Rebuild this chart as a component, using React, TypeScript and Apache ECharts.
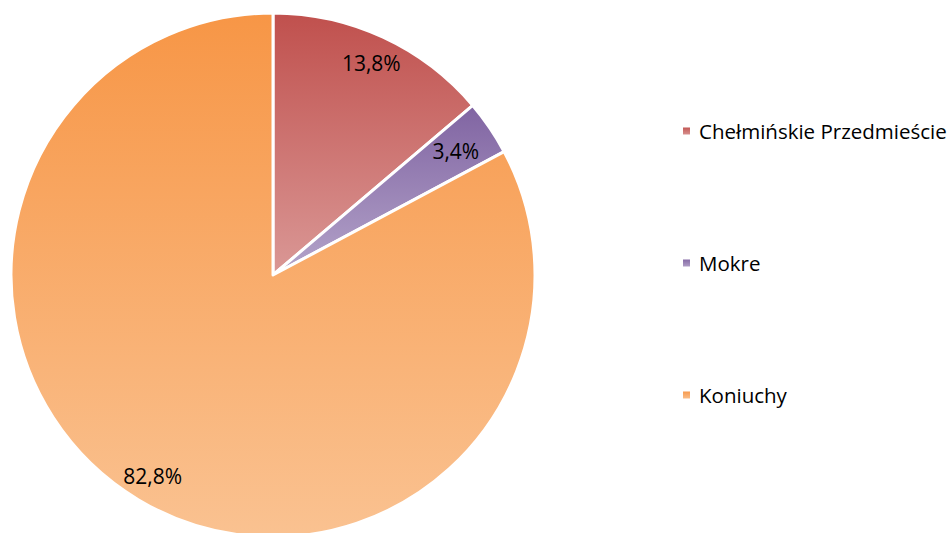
import React, { useEffect, useRef } from "react";
import * as echarts from "echarts";

const categories = ["Chełmińskie Przedmieście", "Mokre", "Koniuchy"];
const values = [13.8, 3.4, 82.8];
const topColors = ["#C0504D", "#8064A2", "#F79646"];
const bottomColors = ["#DA9896", "#B4A4CA", "#FAC291"];

const FONT = "'Open Sans', Lato, sans-serif";
const CENTER = [273, 275];
const R = 262;

export default function App() {
  const ref = useRef<HTMLDivElement>(null);
  useEffect(() => {
    if (!ref.current) return;
    const chart = echarts.init(ref.current, null, { renderer: "svg" });
    const grad = (i: number) =>
      new echarts.graphic.LinearGradient(0, 0, 0, 1, [
        { offset: 0, color: topColors[i] },
        { offset: 1, color: bottomColors[i] },
      ]);
    const data = categories.map((name, i) => ({
      name,
      value: values[i],
      itemStyle: { color: grad(i) },
    }));
    const labelCfg = {
      show: true,
      position: "inside",
      fontFamily: FONT,
      fontSize: 21,
      color: "#000",
      formatter: (p: any) => p.value.toFixed(1).replace(".", ",") + "%",
    };
    const overlay = (r0: number, shown: number[]) => ({
      type: "pie",
      center: CENTER,
      radius: [r0, R],
      startAngle: 90,
      clockwise: true,
      silent: true,
      legendHoverLink: false,
      itemStyle: { color: "transparent", borderWidth: 0 },
      label: labelCfg,
      labelLine: { show: false },
      emphasis: { disabled: true },
      data: categories.map((name, i) => ({
        name: name + " ",
        value: values[i],
        label: { show: shown.includes(i) },
      })),
    });
    chart.setOption({
      animation: false,
      legend: {
        orient: "vertical",
        left: 681,
        top: 120,
        padding: 0,
        itemWidth: 9,
        itemHeight: 9,
        itemGap: 110,
        icon: "rect",
        textStyle: {
          fontFamily: FONT,
          fontSize: 20.5,
          lineHeight: 22,
          color: "#000",
          padding: [0, 0, 0, 3],
        },
        data: categories,
      },
      series: [
        {
          type: "pie",
          center: CENTER,
          radius: [0, R],
          startAngle: 90,
          clockwise: true,
          itemStyle: { borderColor: "#fff", borderWidth: 3 },
          label: { show: false },
          labelLine: { show: false },
          emphasis: { disabled: true },
          data,
        },
        overlay(200, [0, 2]),
        overlay(174, [1]),
      ],
    });
    return () => chart.dispose();
  }, []);
  return (
    <div
      ref={ref}
      style={{ position: "absolute", left: 0, top: 0, width: 952, height: 533 }}
    />
  );
}
